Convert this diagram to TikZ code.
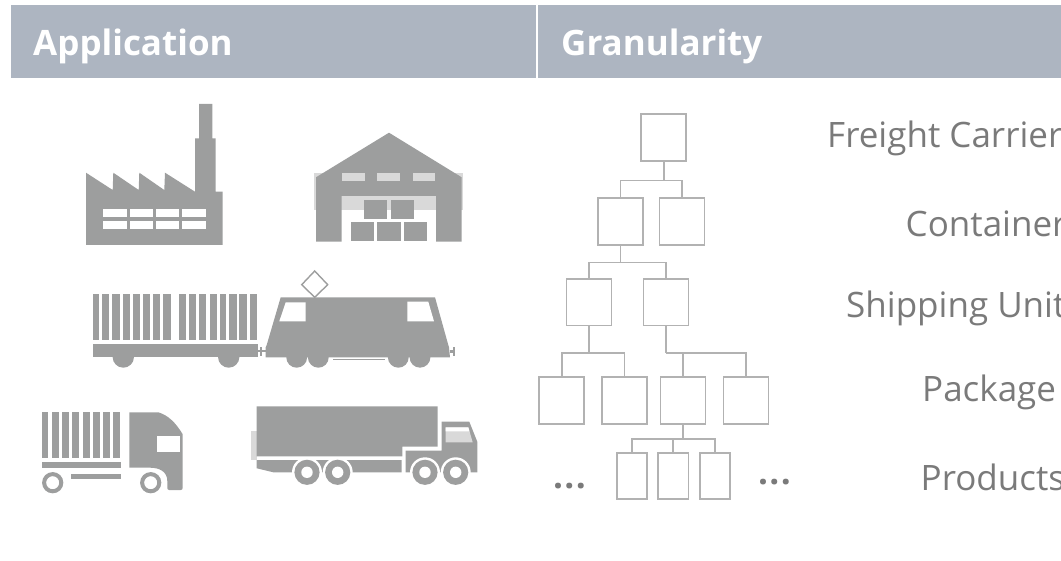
\documentclass[tikz,border=0pt]{standalone}
\usepackage{fontspec}
\setmainfont{Open Sans}
\definecolor{hdr}{RGB}{173,181,193}
\definecolor{icon}{RGB}{157,158,158}
\definecolor{pale}{RGB}{217,217,217}
\definecolor{boxline}{RGB}{178,178,178}
\definecolor{lbl}{RGB}{122,122,122}
\newcommand{\spdots}{.\kern1.5pt.\kern1.5pt.}
\tikzset{
  hdrbox/.style={fill=hdr,draw=none,inner sep=0pt,anchor=north west},
  hdrtxt/.style={text=white,font=\fontsize{35}{40}\selectfont\bfseries,anchor=base west,inner sep=0pt},
  gran/.style={text=lbl,font=\fontsize{35}{40}\selectfont,anchor=base west,inner sep=0pt},
  tbox/.style={draw=boxline,line width=1.7pt,fill=white,minimum width=45pt,minimum height=46.5pt,inner sep=0pt,anchor=north west},
  nbox/.style={draw=boxline,line width=1.7pt,fill=white,minimum width=30.5pt,minimum height=46.3pt,inner sep=0pt,anchor=north west},
  tlink/.style={draw=boxline,line width=1.7pt},
  dotsn/.style={text=lbl,font=\fontsize{35}{40}\selectfont\bfseries,anchor=base,inner sep=0pt},
  ic/.style={fill=icon,draw=none},
  pl/.style={fill=pale,draw=none},
  wh/.style={fill=white,draw=none}
}
\begin{document}
\begin{tikzpicture}[x=1pt,y=-1pt]
\useasboundingbox (0,0) rectangle (1061,561);
\clip (0,0) rectangle (1061,561);
% header
\node[hdrbox,minimum width=525.7pt,minimum height=73.6pt] (h1) at (10.3,4.7) {};
\node[hdrbox,minimum width=523pt,minimum height=73.6pt] (h2) at (538.2,4.7) {};
\node[hdrtxt] (t1) at (33,56) {Application};
\node[hdrtxt] (t2) at (561,56) {Granularity};
% factory
\fill[ic] (86,172.7) -- (112.7,190) -- (113.3,172.7) -- (138.7,190) -- (139.3,172.7) -- (164.3,190) -- (165,172.7) -- (195,191.7) -- (195,138.3) -- (199,138.3) -- (199,104) -- (212.3,104) -- (212.3,138.3) -- (215.7,138.3) -- (215.7,191.7) -- (222.7,191.7) -- (222.7,245) -- (86,245) -- cycle;
\foreach \xa/\xb in {103.3/127.3,130/153.3,156/179.3,182.3/205.7}{
  \fill[wh] (\xa,209.3) rectangle (\xb,217.3);
  \fill[wh] (\xa,221.3) rectangle (\xb,229.3);
}
% warehouse
\fill[pl] (314,173) rectangle (462.7,210);
\fill[ic] (316,177.3) -- (389,132.7) -- (461.7,177.3) -- (461.7,241.7) -- (436,241.7) -- (436,196) -- (341.7,196) -- (341.7,241.7) -- (316,241.7) -- cycle;
\fill[wh] (341.7,210) rectangle (436,241.7);
\fill[pl] (341.7,196) rectangle (436,210);
\foreach \xa/\xb in {342.3/365.3,377.3/400.3,412.7/435.3}{\fill[pl] (\xa,173.3) rectangle (\xb,180.7);}
\foreach \xa/\xb in {364/387.3,390.7/414}{\fill[ic] (\xa,199.7) rectangle (\xb,218.7);}
\foreach \xa/\xb in {350.7/374,377.3/400.7,404/427.3}{\fill[ic] (\xa,222) rectangle (\xb,241);}
% wagon
\foreach \xa/\xb in {93/99.3,102.3/109.3,112.3/120,123/130,133.3/140,143/150.3,153/160.3,163.3/170.7,179.3/185.7,188.7/196,199/206.3,209.7/216.7,219.7/226.3,229.3/236.7,239.3/246.7,250/257.3}{
  \fill[ic] (\xa,294.3) rectangle (\xb,340.3);
}
\fill[ic] (93,344) rectangle (258.3,357);
\fill[ic] (123.3,357) circle[radius=10.7];
\fill[ic] (228.7,357) circle[radius=10.7];
\fill[ic] (258.3,350) rectangle (266,352.5);
% locomotive
\draw[icon,line width=1.4pt,line join=miter] (314.7,271) -- (327.7,284.7) -- (314.7,297.3) -- (301.7,284.7) -- cycle;
\fill[ic] (280.7,297.3) -- (435,297.3) -- (448.3,345) -- (449,347.3) -- (450,357.3) -- (265.7,357.3) -- (265.7,347.3) -- (266.7,345) -- cycle;
\fill[wh] (285.7,302.3) -- (305.7,302.3) -- (305.7,321.3) -- (279.3,321.3) -- cycle;
\fill[wh] (407.3,301.7) -- (428.3,301.7) -- (434,321.3) -- (407.3,321.3) -- cycle;
\foreach \cx in {296.7,318.3,398.3,420}{\fill[ic] (\cx,357.3) circle[radius=10.4];}
\fill[ic] (333.3,358.6) rectangle (385,360.1);
\fill[ic] (260,347) rectangle (262,356);
\fill[ic] (453,347) rectangle (455,356);
\fill[ic] (450,350) rectangle (453,353);
% small truck
\foreach \xa/\xb in {42/48.3,51.7/58.7,62/69,72.3/79.3,82.7/89.7,92.7/99.7,103/110,113.3/120.3}{
  \fill[ic] (\xa,412.3) rectangle (\xb,457.7);
}
\fill[ic] (42,462.3) rectangle (121,467.7);
\fill[ic] (71.3,473.7) rectangle (121,478.7);
\draw[icon,line width=4pt] (52.7,482.7) circle[radius=8.6];
\draw[icon,line width=4pt] (150.7,482.7) circle[radius=8.6];
\fill[ic] (129.3,412.3) -- (158.3,412.3) .. controls (168,415) and (176,423) .. (182.7,434.3) -- (182.7,488) .. controls (182.7,489.5) and (181.5,490) .. (180.7,490) -- (169,490) .. controls (168,490) and (167.3,489) .. (167.3,488) -- (167.3,481) .. controls (167.3,472) and (160,467.7) .. (150,467.7) -- (129.3,467.7) -- cycle;
\fill[wh] (157,436.3) rectangle (180,452);
% big truck
\fill[pl] (250.7,431) rectangle (257,460);
\fill[ic] (256.7,406.3) -- (437.7,406.3) -- (437.7,446.7) -- (402.3,446.7) -- (402.3,456.3) -- (256.7,456.3) -- cycle;
\fill[ic] (256.7,460) -- (401.7,460) -- (401.7,472.3) -- (273.3,472.3) -- (256.7,468.3) -- cycle;
\fill[ic] (405.7,450.7) -- (441.7,450.7) -- (441.7,421.7) -- (469.3,421.7) -- (477.3,441.7) -- (477.3,472.3) -- (405.7,472.3) -- cycle;
\fill[pl] (445.7,427.3) -- (468.3,427.3) -- (472.7,442.3) -- (445.7,442.3) -- cycle;
\fill[wh] (445.7,427.3) -- (468.3,427.3) -- (469.5,431.5) -- (445.7,431.5) -- cycle;
\foreach \cx in {307,337.7,425,455.7}{
  \fill[wh] (\cx,472.3) circle[radius=15];
  \fill[ic] (\cx,472.3) circle[radius=12.6];
  \fill[wh] (\cx,472.3) circle[radius=5.7];
}
% tree
\node[tbox] (r) at (640.3,113.5) {};
\node[tbox] (a) at (597,197.5) {};
\node[tbox] (b) at (658.5,197.5) {};
\node[tbox] (c) at (565.5,278.3) {};
\node[tbox] (d) at (642.5,278.3) {};
\node[tbox] (e) at (538.3,376.5) {};
\node[tbox] (f) at (601.2,376.5) {};
\node[tbox] (g) at (659.5,376.5) {};
\node[tbox] (k) at (722.7,376.5) {};
\node[nbox] (m) at (615.8,452) {};
\node[nbox] (n) at (657.2,452) {};
\node[nbox] (o) at (698.8,452) {};
\draw[tlink] (r.south) -- ++(0,18.7) coordinate (j1);
\draw[tlink] (a.north) |- (j1) -| (b.north);
\draw[tlink] (a.south) -- ++(0,16.7) coordinate (j2);
\draw[tlink] (c.north) |- (j2) -| (d.north);
\draw[tlink] (c.south) -- ++(0,26.4) coordinate (j3);
\draw[tlink] (e.north) |- (j3) -| (f.north);
\draw[tlink] (d.south) -- ++(0,26.4) coordinate (j4);
\draw[tlink] (g.north) |- (j4);
\draw[tlink] (k.north) |- (j4);
\draw[tlink] (g.south) -- ++(0,14) coordinate (j5);
\draw[tlink] (m.north) |- (j5) -| (o.north);
\draw[tlink] (n.north) |- (j5);
\node[dotsn] (d1) at (569.5,488.5) {\spdots};
\node[dotsn] (d2) at (774.5,484.8) {\spdots};
% labels
\node[gran] (l1) at (827,148) {Freight Carrier};
\node[gran] (l2) at (905.5,237) {Container};
\node[gran] (l3) at (846,317.5) {Shipping Unit};
\node[gran] (l4) at (922,401.5) {Package};
\node[gran] (l5) at (920.5,490) {Products};
\end{tikzpicture}
\end{document}
